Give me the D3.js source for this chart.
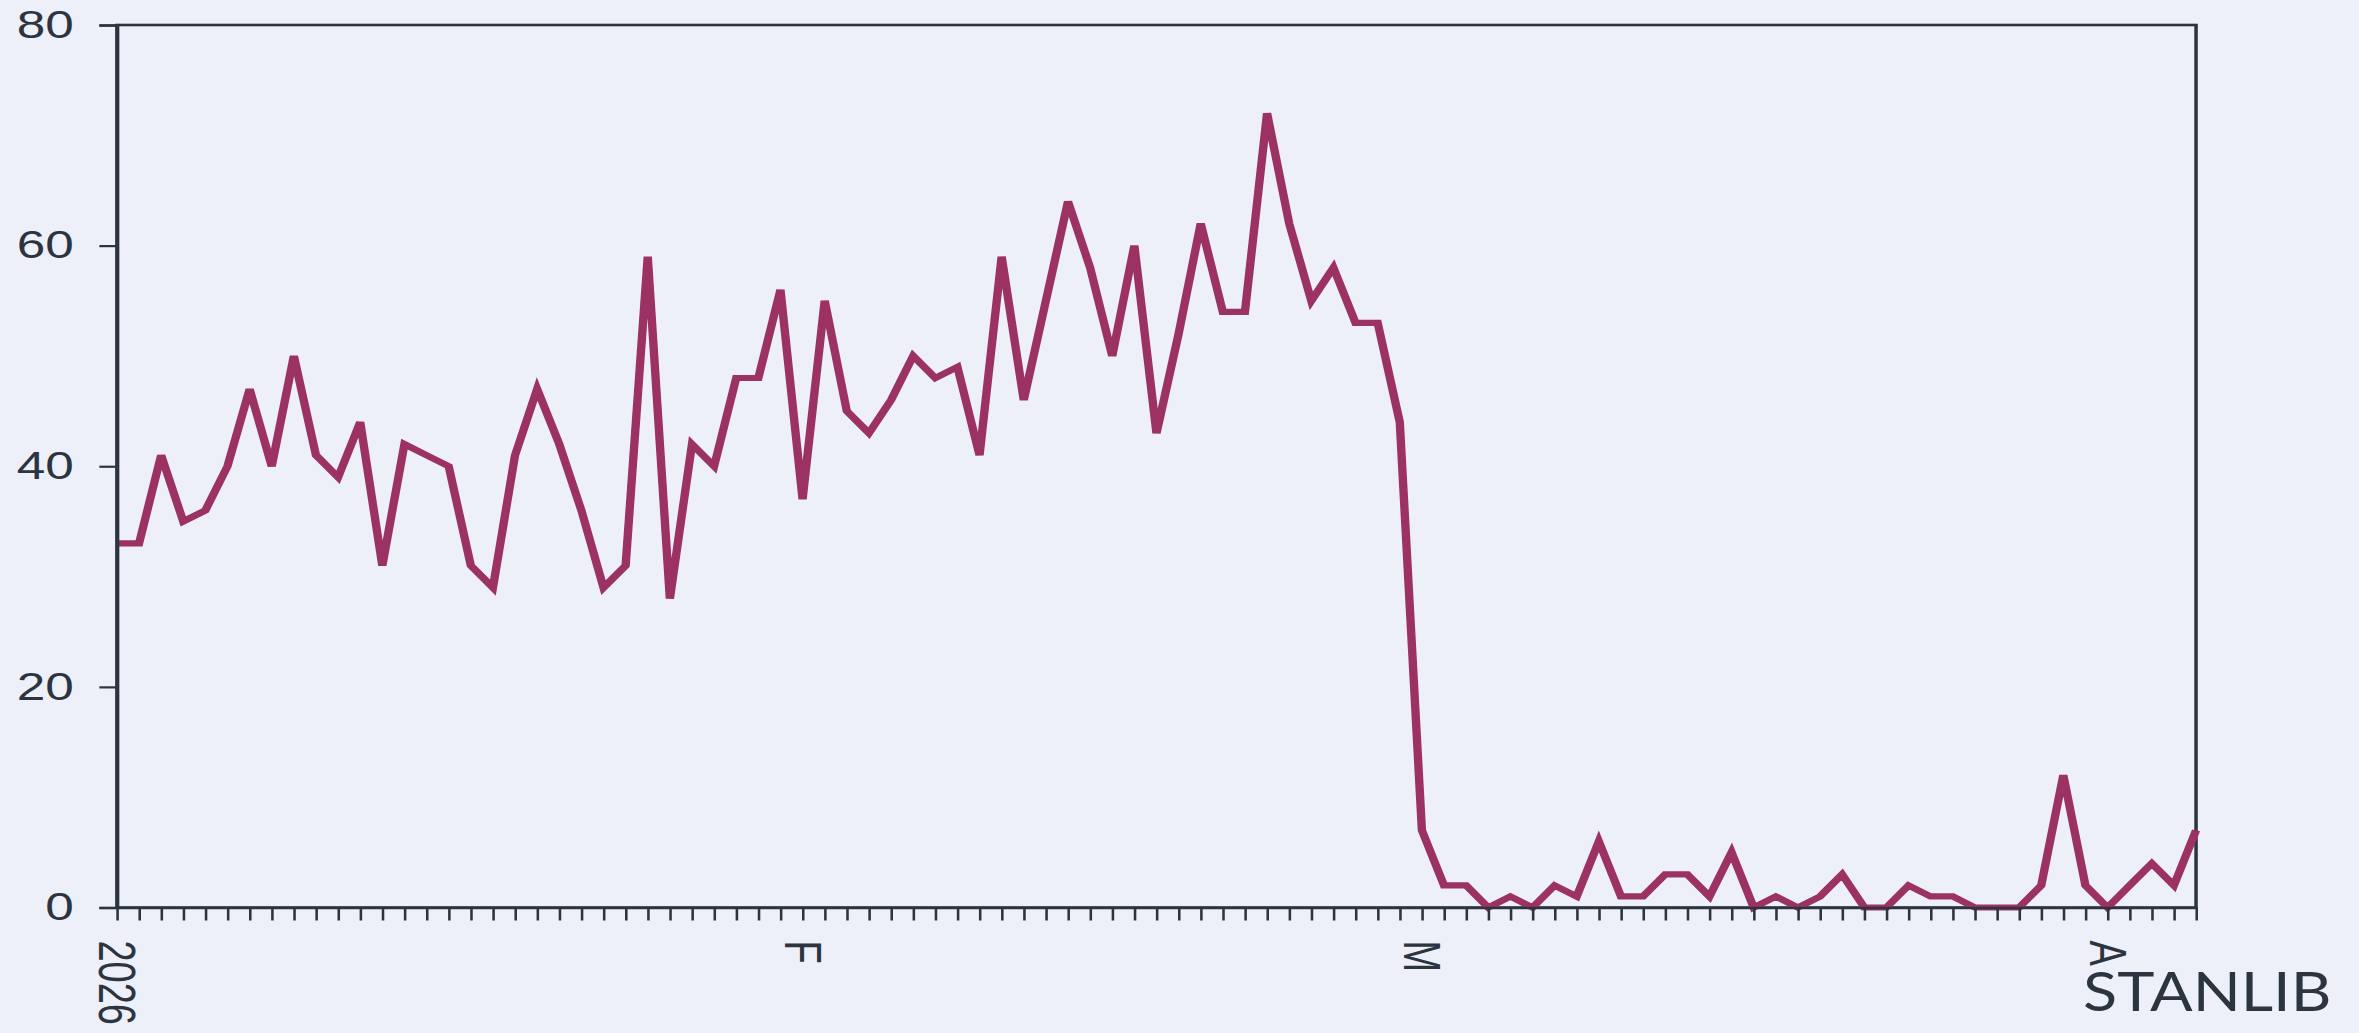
<!DOCTYPE html>
<html>
<head>
<meta charset="utf-8">
<script src="https://cdn.jsdelivr.net/npm/d3@7"></script>
<style>
  html, body { margin: 0; padding: 0; background: #edf0f8; }
  svg { display: block; }
</style>
</head>
<body>
<div id="chart"></div>
<script>
// daily counts, 1 Jan 2026 -> 5 Apr 2026
const startDay = '2026-01-01';
const endDay = '2026-04-05';
const values = [
  33, 33, 41, 35, 36, 40, 47, 40, 50, 41, 39, 44, 31, 42, 41, 40, 31, 29, 41, 47,
  42, 36, 29, 31, 59, 28, 42, 40, 48, 48, 56, 37, 55, 45, 43, 46, 50, 48, 49, 41,
  59, 46, 55, 64, 58, 50, 60, 43, 52, 62, 54, 54, 72, 62, 55, 58, 53, 53, 44, 7,
  2, 2, 0, 1, 0, 2, 1, 6, 1, 1, 3, 3, 1, 5, 0, 1, 0, 1, 3, 0,
  0, 2, 1, 1, 0, 0, 0, 2, 12, 2, 0, 2, 4, 2, 7
];
const yTicks = [0, 20, 40, 60, 80];
const monthLabels = ['2026', 'F', 'M', 'A'];

const parse = d3.timeParse('%Y-%m-%d');
const days = d3.timeDay.range(parse(startDay), d3.timeDay.offset(parse(endDay), 1));
const data = days.map((d, i) => ({ date: d, value: values[i] }));

/* chart is drawn in a narrower box and stretched to the window */
const OUT_W = 2359, OUT_H = 1033;
const STRETCH = 1.35;
const W = OUT_W / STRETCH, H = OUT_H;
const margin = { top: 25, right: W - 1626.7, bottom: H - 907.5, left: 86.6 };

const ink = '#2c3440';
const lineColor = '#9c3264';

const svg = d3.select('#chart')
  .append('svg')
  .attr('width', OUT_W)
  .attr('height', OUT_H)
  .attr('viewBox', `0 0 ${W} ${H}`)
  .attr('preserveAspectRatio', 'none')
  .style('background', '#edf0f8');

const x = d3.scaleTime()
  .domain(d3.extent(days))
  .range([margin.left, W - margin.right]);

const y = d3.scaleLinear()
  .domain([0, 80])
  .range([H - margin.bottom, margin.top]);

// frame
svg.append('rect')
  .attr('x', x.range()[0])
  .attr('y', y.range()[1])
  .attr('width', x.range()[1] - x.range()[0])
  .attr('height', y.range()[0] - y.range()[1])
  .attr('fill', 'none')
  .attr('stroke', ink)
  .attr('stroke-width', 2.6);

// line
const line = d3.line()
  .x(d => x(d.date))
  .y(d => y(d.value));

svg.append('path')
  .datum(data)
  .attr('fill', 'none')
  .attr('stroke', lineColor)
  .attr('stroke-width', 6.2)
  .attr('stroke-linejoin', 'miter')
  .attr('d', line);

// y axis
const yAxis = svg.append('g')
  .attr('transform', `translate(${margin.left},0)`)
  .call(d3.axisLeft(y).tickValues(yTicks).tickSize(13).tickPadding(19));

yAxis.select('.domain').attr('stroke', ink).attr('stroke-width', 2.6);
yAxis.selectAll('.tick line').attr('stroke', ink).attr('stroke-width', 2.2);
yAxis.selectAll('text')
  .attr('fill', ink)
  .style('font-family', '"Liberation Sans", Arial, sans-serif')
  .style('font-size', '38px');

// x axis, one tick a day, month initials
const xAxis = svg.append('g')
  .attr('transform', `translate(0,${H - margin.bottom})`)
  .call(d3.axisBottom(x)
    .tickValues(days)
    .tickSize(13)
    .tickSizeOuter(0)
    .tickFormat(d => d.getDate() === 1 ? monthLabels[d.getMonth()] : ''));

xAxis.select('.domain').attr('stroke', ink).attr('stroke-width', 2.6);
xAxis.selectAll('.tick line').attr('stroke', ink).attr('stroke-width', 1.9);
xAxis.selectAll('text')
  .attr('fill', ink)
  .attr('transform', 'rotate(90)')
  .attr('x', 33)
  .attr('y', 0)
  .attr('dy', '0.36em')
  .style('text-anchor', 'start')
  .style('font-family', '"Liberation Sans", Arial, sans-serif')
  .style('font-size', '38px');

// logo, squeezed to its width in the picture
const logoWidth = 184;
const logo = svg.append('text')
  .attr('fill', ink)
  .style('font-family', 'Lato, "Open Sans", sans-serif')
  .style('font-size', '54px')
  .text('STANLIB');
const natural = logo.node().getComputedTextLength();
logo.attr('transform', `translate(1543,1011) scale(${logoWidth / natural},1)`);
</script>
</body>
</html>
